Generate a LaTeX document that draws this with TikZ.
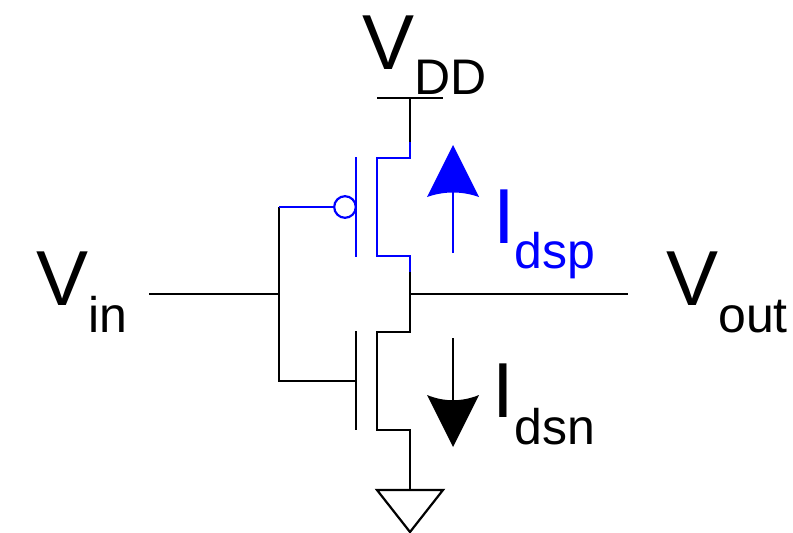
\documentclass[tikz,border=0pt]{standalone}
\usepackage{fontspec}
\setmainfont{Liberation Sans}
\usetikzlibrary{arrows.meta,positioning}
\definecolor{pblue}{RGB}{0,0,255}
\tikzset{%
  wire/.style={draw,line width=2.2pt},
  pwire/.style={draw=pblue,line width=2.2pt},
  biglabel/.style={inner sep=0pt,anchor=base west,font=\fontsize{78}{78}\selectfont},
  sublabel/.style={inner sep=0pt,anchor=base west,font=\fontsize{50}{50}\selectfont}
}
\begin{document}
\begin{tikzpicture}[x=1pt,y=-1pt,line join=miter]
  \useasboundingbox (0,0) rectangle (793,533);
  % supply and ground
  \coordinate (vddl) at (377,98);
  \coordinate (vddr) at (443,98);
  \coordinate (vddn) at (410,98);
  \coordinate (psb) at (410,142);
  \coordinate (ps) at (410,158);
  \coordinate (psc) at (377,158);
  \coordinate (pdc) at (377,256);
  \coordinate (pd) at (410,256);
  \coordinate (pdb) at (410,272);
  \coordinate (out) at (410,294);
  \coordinate (outr) at (628,294);
  \coordinate (nd) at (410,332);
  \coordinate (ndc) at (377,332);
  \coordinate (nsc) at (377,430);
  \coordinate (ns) at (410,430);
  \coordinate (gnd) at (410,490);
  \coordinate (in) at (149,294);
  \coordinate (gate) at (279,294);
  \coordinate (pg) at (279,207);
  \coordinate (ng) at (279,381);
  \coordinate (ngi) at (356,381);
  \coordinate (pgi) at (334,207);
  \draw[wire] (vddl) -- (vddr);
  \draw[wire] (vddn) -- (psb);
  \draw[wire] (in) -- (gate);
  \draw[wire] (out) -- (outr);
  \draw[wire] (pdb) -- (nd) -- (ndc) -- (nsc) -- (ns) -- (gnd);
  \draw[wire] (gate) -- (ng) -- (ngi);
  \draw[wire] (gate) -- (pg);
  \draw[wire] (356,331) -- (356,430);
  \draw[wire] (377,490) -- (443,490) -- (410,532) -- cycle;
  % pmos
  \draw[pwire] (pg) -- (pgi);
  \draw[pwire] (psb) -- (ps) -- (psc) -- (pdc) -- (pd) -- (pdb);
  \draw[pwire] (356,157) -- (356,257);
  \draw[pwire] (345,207) circle (10.8);
  % currents
  \draw[pwire] (453,253) -- (453,190);
  \fill[pblue] (453,145) -- (479,197) .. controls (462,191) and (444,191) .. (427,197) -- cycle;
  \draw[wire] (453,338) -- (453,400);
  \fill[black] (453,447) -- (479,395) .. controls (462,402) and (444,402) .. (427,395) -- cycle;
  % labels
  \node[biglabel] (vddv) at (362,69) {V};
  \node[sublabel] (vddsub) at (414,94) {DD};
  \node[biglabel] (vinv) at (36,305) {V};
  \node[sublabel] (vinsub) at (88,332) {in};
  \node[biglabel] (voutv) at (666,305) {V};
  \node[sublabel] (voutsub) at (718,332) {out};
  \node[biglabel,text=pblue] (idspi) at (493.5,243) {I};
  \node[sublabel,text=pblue] (idspsub) at (514.5,268.5) {dsp};
  \node[biglabel] (idsni) at (492,417) {I};
  \node[sublabel] (idsnsub) at (514.5,444) {dsn};
\end{tikzpicture}
\end{document}
